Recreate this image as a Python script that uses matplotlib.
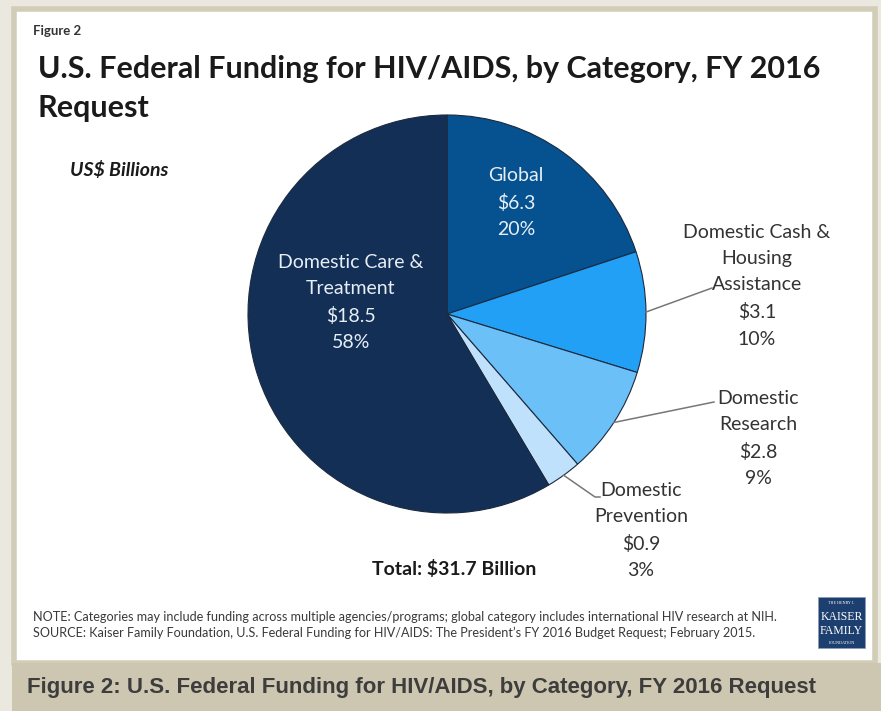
import matplotlib
matplotlib.use('Agg')
import matplotlib.pyplot as plt
from matplotlib.patches import Rectangle
import numpy as np

W, H = 881, 711

# data (US$ billions), clockwise from 12 o'clock
categories = ['Global', 'Domestic Cash &\nHousing\nAssistance', 'Domestic\nResearch',
              'Domestic\nPrevention', 'Domestic Care &\nTreatment']
values = [6.3, 3.1, 2.8, 0.9, 18.5]
pcts = ['20%', '10%', '9%', '3%', '58%']
colors = ['#06518f', '#21a0f5', '#6cc0f8', '#bfe1fb', '#132f55']

total_label = 'Total: $31.7 Billion'
note = ('NOTE: Categories may include funding across multiple agencies/programs; '
        'global category includes international HIV research at NIH.')
source = ('SOURCE: Kaiser Family Foundation, U.S. Federal Funding for HIV/AIDS: '
          'The President\u2019s FY 2016 Budget Request; February 2015.')

plt.rcParams['font.family'] = ['Lato', 'DejaVu Sans']


def fx(px):
    return px / W


def fy(py):
    return 1 - py / H


fig = plt.figure(figsize=(W / 100, H / 100), dpi=100, facecolor='#ebe8df')

# white panel and caption strip
fig.patches.append(Rectangle((fx(14), fy(663)), fx(861), 654 / H, transform=fig.transFigure,
                             facecolor='white', edgecolor='#d2cdb7', linewidth=4, zorder=-2))
fig.patches.append(Rectangle((fx(12), 0), 1, 48 / H, transform=fig.transFigure,
                             facecolor='#cdc7b1', edgecolor='none', zorder=-1))

# pie
cx, cy, r = 447, 314, 199
ax = fig.add_axes([fx(cx - r), fy(cy + r), 2 * r / W, 2 * r / H])
ax.set_zorder(2)
ax.patch.set_visible(False)
wedges, _ = ax.pie(values, colors=colors, startangle=90, counterclock=False, radius=1,
                   wedgeprops=dict(edgecolor='#1b2a3f', linewidth=0.8))
ax.set_xlim(-1, 1)
ax.set_ylim(-1, 1)
ax.axis('off')

text_col = '#333333'
lab_size = 14
lab_space = 1.66

# inside labels
inside = {0: (516, 175), 4: (351, 262)}
for i, (px, py) in inside.items():
    txt = categories[i] + '\n$%.1f\n' % values[i] + pcts[i]
    fig.text(fx(px), fy(py - 8), txt, ha='center', va='top', color='#e6eef6',
             fontsize=lab_size, linespacing=lab_space)

# outside labels with leader lines
outside = {1: ((757, 232), [(712, 288)]),
           2: ((758, 398), [(714, 402)]),
           3: ((641, 490), [(595, 497), (600, 497)])}
for i, ((px, py), pts) in outside.items():
    txt = categories[i] + '\n$%.1f\n' % values[i] + pcts[i]
    fig.text(fx(px), fy(py - 8), txt, ha='center', va='top', color=text_col,
             fontsize=lab_size, linespacing=lab_space)
    w = wedges[i]
    mid = np.deg2rad((w.theta1 + w.theta2) / 2)
    xs = [np.cos(mid)] + [(qx - cx) / r for qx, qy in pts]
    ys = [np.sin(mid)] + [(cy - qy) / r for qx, qy in pts]
    ax.plot(xs, ys, color='#777777', linewidth=1.1, clip_on=False)

# titles
fig.text(fx(33), fy(31), 'Figure 2', fontsize=9.5, fontweight='bold', color='#333333', va='center')
fig.text(fx(38), fy(69), 'U.S. Federal Funding for HIV/AIDS, by Category, FY 2016',
         fontsize=22, fontweight='bold', color='#1a1a1a', va='center')
fig.text(fx(38), fy(108), 'Request',
         fontsize=22, fontweight='bold', color='#1a1a1a', va='center')
fig.text(fx(70), fy(170), 'US$ Billions', fontsize=14, fontweight='bold', style='italic',
         color='#1a1a1a', va='center')
fig.text(fx(454), fy(569), total_label, fontsize=14, fontweight='bold', color='#1a1a1a',
         ha='center', va='center')

# footnotes
fig.text(fx(33), fy(617), note, fontsize=9.1, color='#3a3a3a', va='center')
fig.text(fx(33), fy(633), source, fontsize=9.1, color='#3a3a3a', va='center')

# logo
fig.patches.append(Rectangle((fx(818), fy(648)), 47 / W, 51 / H, transform=fig.transFigure,
                             facecolor='#1d3f6f', edgecolor='#8c9fb8', linewidth=0.6))
serif = ['Liberation Serif', 'DejaVu Serif']
fig.text(fx(841.5), fy(603), 'THE HENRY J.', fontsize=3, color='white', ha='center',
         va='center', family=serif)
fig.text(fx(841.5), fy(617), 'KAISER', fontsize=8.5, color='white', ha='center',
         va='center', family=serif)
fig.text(fx(841.5), fy(631), 'FAMILY', fontsize=8.5, color='white', ha='center',
         va='center', family=serif)
fig.text(fx(841.5), fy(643), 'FOUNDATION', fontsize=3, color='white', ha='center',
         va='center', family=serif)

# caption strip text
fig.text(fx(27), fy(688), 'Figure 2: U.S. Federal Funding for HIV/AIDS, by Category, FY 2016 Request',
         fontsize=16, fontweight='bold', color='#3d3d3d', va='center',
         family=['Liberation Sans Narrow', 'Liberation Sans', 'DejaVu Sans'])

fig.savefig('out.png', dpi=100, facecolor=fig.get_facecolor())
